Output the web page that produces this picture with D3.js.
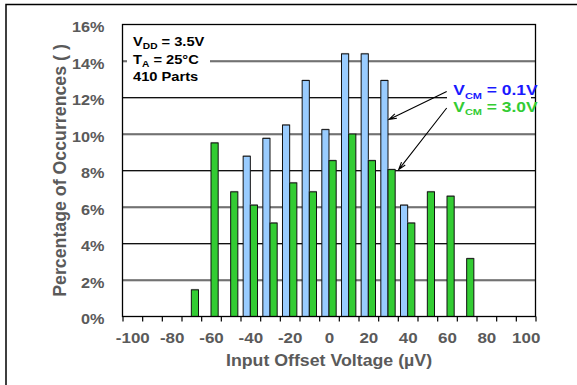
<!DOCTYPE html>
<html>
<head>
<meta charset="utf-8">
<script src="https://cdn.jsdelivr.net/npm/d3@7"></script>
<style>
  html, body { margin: 0; padding: 0; background: #fff; }
  svg { display: block; font-family: "Liberation Sans", Arial, Helvetica, sans-serif; font-weight: bold; }
</style>
</head>
<body>
<svg id="chart" width="577" height="385"></svg>
<script>
// Input offset voltage histogram bins (µV)
const bins = [-100, -90, -80, -70, -60, -50, -40, -30, -20, -10, 0, 10, 20, 30, 40, 50, 60, 70, 80, 90, 100];
// Percentage of occurrences (410 parts) per bin
const vcm01 = [0, 0, 0, 0, 0, 0, 8.78, 9.76, 10.49, 12.93, 10.24, 14.39, 14.39, 12.93, 6.10, 0, 0, 0, 0, 0, 0];
const vcm30 = [0, 0, 0, 1.46, 9.51, 6.83, 6.10, 5.12, 7.32, 6.83, 8.54, 10.00, 8.54, 8.05, 5.12, 6.83, 6.59, 3.17, 0, 0, 0];
const seriesNames = ["VCM = 0.1V", "VCM = 3.0V"];
const yTickValues = [0, 2, 4, 6, 8, 10, 12, 14, 16];
const xTickLabels = [-100, -80, -60, -40, -20, 0, 20, 40, 60, 80, 100];
const conditions = [["V", "DD", " = 3.5V"], ["T", "A", " = 25°C"], ["410 Parts", "", ""]];

const colors = { "VCM = 0.1V": "#99ccff", "VCM = 3.0V": "#33cc33" };
const textColors = { "VCM = 0.1V": "#1a1aff", "VCM = 3.0V": "#33cc33" };
const gray = "#5a5a5a";

const svg = d3.select("#chart");

const plot = { left: 122.5, right: 535.5, top: 24.5, bottom: 316.5 };
const halfBin = 5;
const x = d3.scaleLinear().domain([bins[0] - halfBin, bins[bins.length - 1] + halfBin]).range([plot.left, plot.right]);
const y = d3.scaleLinear().domain([0, 16]).range([plot.bottom, plot.top]);
const pair = d3.scaleBand().domain(seriesNames).range([0, x(halfBin) - x(-halfBin)]).paddingInner(0).paddingOuter(0.37);

// outer frame
svg.append("path").attr("d", `M6,385 V4.5 H577`).attr("fill", "none").attr("stroke", "#000").attr("stroke-width", 1.5);

// horizontal gridlines
const grid = svg.append("g");
yTickValues.filter(v => v > 0 && v < 16).forEach(v => {
  grid.append("line").attr("x1", plot.left).attr("x2", plot.right).attr("y1", y(v) + 1).attr("y2", y(v) + 1)
    .attr("stroke", "#aaa").attr("stroke-width", 1);
  grid.append("line").attr("x1", plot.left).attr("x2", plot.right).attr("y1", y(v)).attr("y2", y(v))
    .attr("stroke", "#111").attr("stroke-width", 1);
});

// text boxes that hide gridlines behind them
svg.append("rect").attr("x", 127).attr("y", 27).attr("width", 83).attr("height", 60).attr("fill", "#fff");
svg.append("rect").attr("x", 447).attr("y", 81).attr("width", 84).attr("height", 35).attr("fill", "#fff");

// bars
const seriesData = [
  { name: seriesNames[0], values: vcm01 },
  { name: seriesNames[1], values: vcm30 }
];
const barG = svg.append("g");
seriesData.forEach(s => {
  const pts = bins.map((b, i) => ({ bin: b, value: s.values[i] })).filter(d => d.value > 0);
  barG.selectAll(null).data(pts).enter().append("rect")
    .attr("x", d => x(d.bin - halfBin) + pair(s.name))
    .attr("y", d => y(d.value) - 1)
    .attr("width", pair.bandwidth())
    .attr("height", 1)
    .attr("fill", "#aaa");
  barG.selectAll(null).data(pts).enter().append("rect")
    .attr("x", d => x(d.bin - halfBin) + pair(s.name))
    .attr("y", d => y(d.value))
    .attr("width", pair.bandwidth())
    .attr("height", d => y(0) - y(d.value))
    .attr("fill", colors[s.name])
    .attr("stroke", "#111")
    .attr("stroke-width", 1);
});

// plot frame
svg.append("rect").attr("x", plot.left).attr("y", plot.top)
  .attr("width", plot.right - plot.left).attr("height", plot.bottom - plot.top)
  .attr("fill", "none").attr("stroke", "#000").attr("stroke-width", 1.3);

// x axis: tick marks at bin edges
const edges = bins.map(b => b - halfBin).concat([bins[bins.length - 1] + halfBin]);
svg.append("g").attr("transform", `translate(0,${plot.bottom})`)
  .call(d3.axisBottom(x).tickValues(edges).tickSize(5).tickFormat(""))
  .call(g => g.select(".domain").remove())
  .call(g => g.selectAll("line").attr("stroke", "#000").attr("stroke-width", 1.2));

// x axis: labels at bin centres
const sxTick = 1.17;
svg.append("g").attr("transform", `translate(0,${plot.bottom})`)
  .call(d3.axisBottom(x).tickValues(xTickLabels).tickSize(0).tickFormat(d => String(d)))
  .call(g => g.select(".domain").remove())
  .call(g => g.attr("font-family", null).attr("font-size", 14.5))
  .call(g => g.selectAll("text").attr("y", 27).attr("dy", null).attr("fill", gray)
    .attr("transform", `scale(${sxTick},1)`));

// y axis labels
svg.append("g").attr("transform", `translate(${plot.left},0)`)
  .call(d3.axisLeft(y).tickValues(yTickValues).tickSize(0).tickFormat(d => d + "%"))
  .call(g => g.select(".domain").remove())
  .call(g => g.attr("font-family", null).attr("font-size", 14))
  .call(g => g.selectAll("text").attr("x", -18 / 1.16).attr("y", 7).attr("dy", null).attr("fill", gray)
    .attr("transform", "scale(1.16,1)"));

// axis titles
svg.append("text")
  .attr("transform", `translate(${(plot.left + plot.right) / 2},366) scale(1.11,1)`)
  .attr("text-anchor", "middle").attr("font-size", 16).attr("fill", gray)
  .text("Input Offset Voltage (µV)");
svg.append("text")
  .attr("transform", `translate(66,${(plot.top + plot.bottom) / 2}) rotate(-90) scale(1.11,1.16)`)
  .attr("text-anchor", "middle").attr("font-size", 16).attr("fill", gray)
  .text("Percentage of Occurrences ( )");

// writes "main + subscript + rest" as one text line
function subText(parent, tx, ty, parts, size, subSize, sx, fill, shift) {
  const t = parent.append("text")
    .attr("transform", `translate(${tx},${ty}) scale(${sx},1)`)
    .attr("font-size", size).attr("fill", fill);
  t.append("tspan").text(parts[0]);
  if (parts[1]) {
    t.append("tspan").attr("font-size", subSize).attr("dy", shift).text(parts[1]);
    t.append("tspan").attr("dy", -shift).text(parts[2]);
  }
  return t;
}

// test conditions
const condBaselines = [46, 63.5, 80.5];
conditions.forEach((c, i) => subText(svg, 133, condBaselines[i], c, 13, 9, 1.13, "#000", 3));

// series legend
const legendX = 453.3, legendY = [95, 111.5];
seriesNames.forEach((name, i) => {
  const rest = name.replace("VCM", "");
  subText(svg, legendX, legendY[i], ["V", "CM", rest], 15, 9.5, 1.16, textColors[name], 3.5);
});

// leader arrows from legend entries to their bars (bin 30 µV)
const arrowTargets = [
  { name: seriesNames[0], bin: 30, value: 10.8, dx: 1 },
  { name: seriesNames[1], bin: 30, value: 8.05, dx: 3.5 }
];
const arrowTails = [[446.7, 91.5], [446.7, 108]];
arrowTargets.forEach((a, i) => {
  const tipX = x(a.bin - halfBin) + pair(a.name) + pair.bandwidth() + a.dx;
  const tipY = y(a.value);
  const [tx, ty] = arrowTails[i];
  const ang = Math.atan2(ty - tipY, tx - tipX);
  const L = 8, spread = 0.3;
  const h1 = [tipX + L * Math.cos(ang + spread), tipY + L * Math.sin(ang + spread)];
  const h2 = [tipX + L * Math.cos(ang - spread), tipY + L * Math.sin(ang - spread)];
  svg.append("path")
    .attr("d", `M${tx},${ty} L${tipX},${tipY} M${h1[0]},${h1[1]} L${tipX},${tipY} L${h2[0]},${h2[1]}`)
    .attr("fill", "none").attr("stroke", "#000").attr("stroke-width", 1.1);
});
</script>
</body>
</html>
